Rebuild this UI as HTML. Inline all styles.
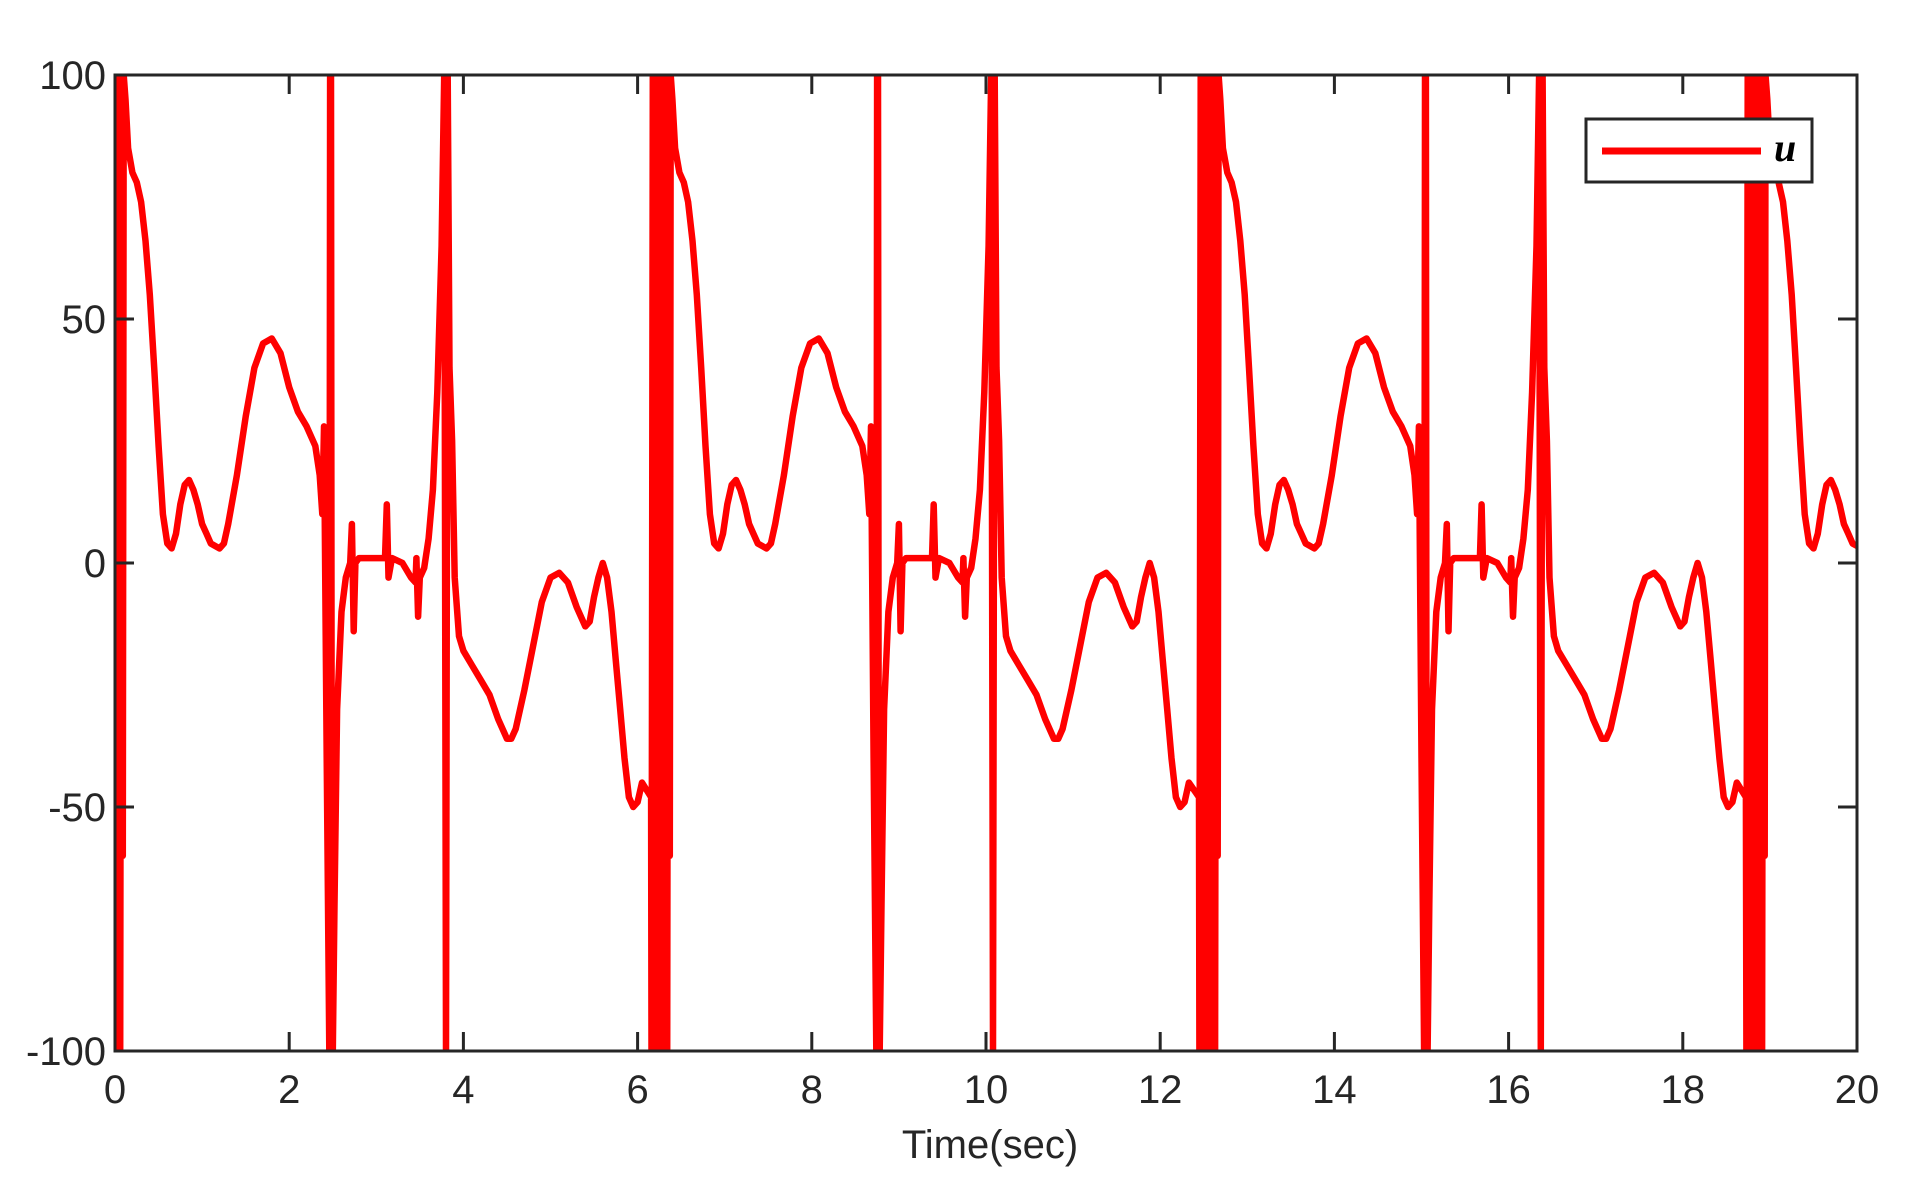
<!DOCTYPE html>
<html><head><meta charset="utf-8"><style>
html,body{margin:0;padding:0;background:#fff;}
svg{display:block;font-family:"Liberation Sans",Arial,sans-serif;}
</style></head><body>
<svg id="chart" width="1914" height="1183" viewBox="0 0 1914 1183" xmlns="http://www.w3.org/2000/svg">
<rect x="0" y="0" width="1914" height="1183" fill="#fff"/>
<defs><clipPath id="plotclip"><rect x="115" y="75" width="1742" height="976"/></clipPath></defs>
<g id="series" clip-path="url(#plotclip)"></g>
<g id="axes"></g>
<g>
<rect x="1586" y="119" width="226" height="63" fill="#fff" stroke="#262626" stroke-width="3"/>
<line x1="1602" y1="151" x2="1761" y2="151" stroke="#ff0000" stroke-width="7"/>
<text x="1774" y="161" font-family="'Liberation Serif',serif" font-style="italic" font-weight="bold" font-size="40" fill="#000">u</text>
</g>
<text x="990" y="1158" text-anchor="middle" font-size="40" fill="#262626">Time(sec)</text>
</svg>
<script>
const xTicks = [0,2,4,6,8,10,12,14,16,18,20];
const yTicks = [-100,-50,0,50,100];
const cycleStarts = [0, 6.28, 12.57, 18.85];
const burstTimes = [-0.125,-0.12,-0.105,-0.09,-0.075,-0.06,-0.045,-0.03,-0.015,0,0.015,0.03,0.045,0.06,0.075,0.09,0.1];
const burstValues = [-48,-100,100,-100,100,-100,100,-100,100,-100,100,-100,100,-100,100,-60,100];
const cycleTimes = [0.12,0.15,0.2,0.25,0.3,0.35,0.4,0.45,0.5,0.55,0.6,0.65,0.7,0.75,0.8,0.85,0.9,0.95,1.0,1.05,1.1,1.2,1.25,1.3,1.4,1.5,1.6,1.7,1.8,1.9,2.0,2.1,2.2,2.3,2.35,2.38,2.4,2.43,2.46,2.47,2.48,2.49,2.5,2.52,2.55,2.6,2.65,2.7,2.72,2.74,2.76,2.8,3.0,3.1,3.12,3.14,3.18,3.3,3.4,3.45,3.46,3.48,3.5,3.55,3.6,3.65,3.7,3.75,3.78,3.8,3.82,3.84,3.87,3.9,3.95,4.0,4.1,4.2,4.3,4.4,4.5,4.55,4.6,4.7,4.8,4.9,5.0,5.1,5.2,5.3,5.4,5.45,5.5,5.55,5.6,5.65,5.7,5.75,5.8,5.85,5.9,5.95,6.0,6.05];
const cycleValues = [95,85,80,78,74,66,55,40,24,10,4,3,6,12,16,17,15,12,8,6,4,3,4,8,18,30,40,45,46,43,36,31,28,24,18,10,28,-40,-100,100,100,-100,-100,-70,-30,-10,-3,0,8,-14,0,1,1,1,12,-3,1,0,-3,-4,1,-11,-3,-1,5,15,35,65,100,-100,100,40,25,-3,-15,-18,-21,-24,-27,-32,-36,-36,-34,-26,-17,-8,-3,-2,-4,-9,-13,-12,-7,-3,0,-3,-10,-20,-30,-40,-48,-50,-49,-45];

const X0=115, X1=1857, Y0=1051, Y1=75;
function xs(t){return X0+(t-0)/(20-0)*(X1-X0);}
function ys(v){return Y0-(v+100)/200*(Y0-Y1);}
const NS="http://www.w3.org/2000/svg";

const pts=[];
cycleStarts.forEach(function(c){
  burstTimes.forEach(function(bt,i){ const t=c+bt; if(t>=0) pts.push([t,burstValues[i]]); });
  cycleTimes.forEach(function(ct,i){ pts.push([c+ct,cycleValues[i]]); });
});
const series=document.getElementById('series');
const pl=document.createElementNS(NS,'polyline');
pl.setAttribute('points',pts.map(function(p){return xs(p[0]).toFixed(1)+','+ys(p[1]).toFixed(1);}).join(' '));
pl.setAttribute('fill','none');pl.setAttribute('stroke','#ff0000');pl.setAttribute('stroke-width','6.5');pl.setAttribute('stroke-linejoin','round');


series.appendChild(pl);

const axes=document.getElementById('axes');
const box=document.createElementNS(NS,'rect');
box.setAttribute('x',X0);box.setAttribute('y',Y1);box.setAttribute('width',X1-X0);box.setAttribute('height',Y0-Y1);
box.setAttribute('fill','none');box.setAttribute('stroke','#262626');box.setAttribute('stroke-width','3');


axes.appendChild(box);
function ln(x1,y1,x2,y2,name){const l=document.createElementNS(NS,'line');l.setAttribute('x1',x1);l.setAttribute('y1',y1);l.setAttribute('x2',x2);l.setAttribute('y2',y2);l.setAttribute('stroke','#262626');l.setAttribute('stroke-width','3');


axes.appendChild(l);}
xTicks.forEach(function(t){
  const x=xs(t);
  ln(x,Y0,x,Y0-19,'x-tick');ln(x,Y1,x,Y1+19,'x-tick-top');
  const tx=document.createElementNS(NS,'text');tx.setAttribute('x',x);tx.setAttribute('y',1103);tx.setAttribute('text-anchor','middle');tx.setAttribute('font-size','40');tx.setAttribute('fill','#262626');tx.textContent=String(t);
  
  
  axes.appendChild(tx);
});
yTicks.forEach(function(v){
  const y=ys(v);
  ln(X0,y,X0+19,y,'y-tick');ln(X1,y,X1-19,y,'y-tick-right');
  const tx=document.createElementNS(NS,'text');tx.setAttribute('x',106);tx.setAttribute('y',y+14);tx.setAttribute('text-anchor','end');tx.setAttribute('font-size','40');tx.setAttribute('fill','#262626');tx.textContent=String(v);
  
  
  axes.appendChild(tx);
});
</script>
</body></html>
